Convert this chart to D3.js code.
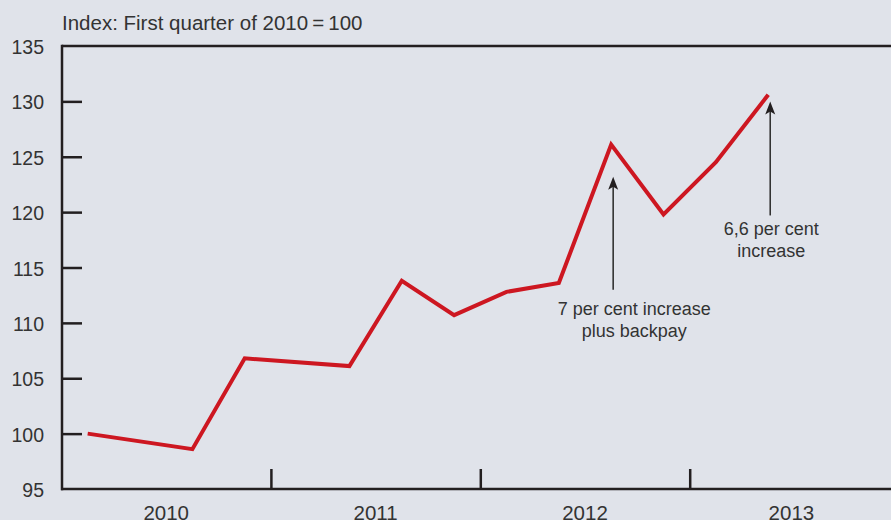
<!DOCTYPE html>
<html><head><meta charset="utf-8">
<script src="https://cdn.jsdelivr.net/npm/d3@7"></script>
<style>
html,body{margin:0;padding:0;background:#e0e3ea;overflow:hidden}
text{font-family:"Liberation Sans",Arial,sans-serif;fill:#333}
</style></head>
<body>
<svg id="c" width="891" height="520"></svg>
<script>
const quarters = ["2010Q1","2010Q3","2010Q4","2011Q2","2011Q3","2011Q4","2012Q1","2012Q2","2012Q3","2012Q4","2013Q1","2013Q2"];
const values   = [100, 98.6, 106.8, 106.1, 113.8, 110.7, 112.8, 113.6, 126.1, 119.8, 124.5, 130.6];
const years = ["2010","2011","2012","2013"];
const yTicks = [95,100,105,110,115,120,125,130,135];
const title = "Index: First quarter of 2010\u2009=\u2009100";
const notes = [
  {q:"2012Q3", lines:["7 per cent increase","plus backpay"], tip:123.2, base:113.0, gap:25, labelOffset:21},
  {q:"2013Q2", lines:["6,6 per cent","increase"], tip:130.0, base:119.7, gap:20, labelOffset:1}
];

const svg = d3.select("#c");
const qIndex = q => (+q.slice(0,4) - 2010)*4 + (+q.slice(5) - 1);
const x = d3.scaleLinear().domain([0,16]).range([61.5, 61.5+16*52.35]);
const y = d3.scaleLinear().domain([95,135]).range([489,46]);

const ink = "#231f20";
svg.append("line").attr("x1",62).attr("x2",900).attr("y1",y(135)).attr("y2",y(135))
  .attr("stroke",ink).attr("stroke-width",2.5);

const yAxis = svg.append("g").attr("transform","translate(62,0)")
  .call(d3.axisRight(y).tickValues(yTicks.filter(v=>v>95&&v<135)).tickSize(20).tickFormat(""));
yAxis.select(".domain").remove();
yAxis.selectAll("line").attr("stroke",ink).attr("stroke-width",2.5);
svg.append("line").attr("x1",62).attr("x2",62).attr("y1",y(135)-1.25).attr("y2",y(95)+1.25)
  .attr("stroke",ink).attr("stroke-width",2.5);
svg.selectAll(".ylab").data(yTicks).join("text").attr("class","ylab")
  .attr("x",44).attr("y",d=>y(d)+8).attr("text-anchor","end")
  .style("font-size","19.5px").text(d=>d);

const xAxis = svg.append("g").attr("transform",`translate(0,${y(95)})`)
  .call(d3.axisTop(x).tickValues([4,8,12]).tickSize(20).tickFormat(""));
xAxis.select(".domain").remove();
xAxis.selectAll("line").attr("stroke",ink).attr("stroke-width",2.5);
svg.append("line").attr("x1",61).attr("x2",900).attr("y1",y(95)).attr("y2",y(95))
  .attr("stroke",ink).attr("stroke-width",2.5);
svg.selectAll(".xlab").data(years).join("text").attr("class","xlab")
  .attr("x",(d,i)=>x(i*4+2) - (i===3?3:0)).attr("y",520).attr("text-anchor","middle")
  .style("font-size","20.5px").text(d=>d);

svg.append("text").attr("x",62).attr("y",30).style("font-size","20.5px").text(title);

const data = quarters.map((q,i)=>({i:qIndex(q), v:values[i]}));
svg.append("path").datum(data)
  .attr("d", d3.line().x(d=>x(d.i+0.5)).y(d=>y(d.v)))
  .attr("fill","none").attr("stroke","#cd1721").attr("stroke-width",4)
  .attr("stroke-linejoin","miter");

notes.forEach(n=>{
  const xi = x(qIndex(n.q)+0.5)+2;
  const yt = y(n.tip), yb = y(n.base);
  svg.append("line").attr("x1",xi).attr("x2",xi).attr("y1",yb).attr("y2",yt+8)
    .attr("stroke","#333").attr("stroke-width",1.6);
  svg.append("path").attr("d",`M${xi},${yt} L${xi-5},${yt+13} L${xi},${yt+10} L${xi+5},${yt+13}Z`)
    .attr("fill","#231f20");
  const t = svg.append("text").attr("text-anchor","middle").style("font-size","18px");
  n.lines.forEach((l,k)=>{
    t.append("tspan").attr("x",xi+n.labelOffset).attr("y",yb+n.gap+k*22).text(l);
  });
});
</script>
</body></html>
